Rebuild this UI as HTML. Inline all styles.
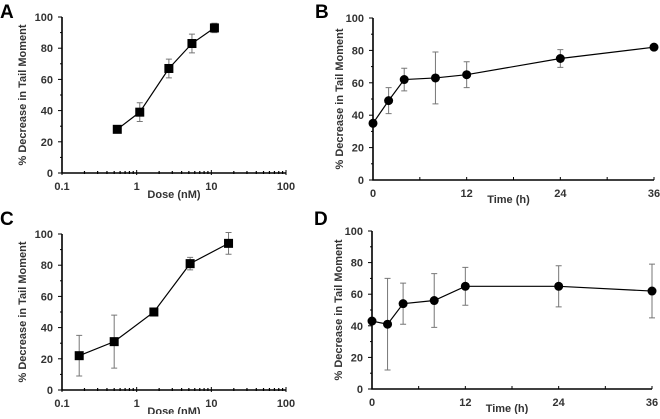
<!DOCTYPE html>
<html><head><meta charset="utf-8"><style>
body{margin:0;background:#fff;width:660px;height:414px;overflow:hidden}
svg{font-family:"Liberation Sans",Arial,sans-serif;font-weight:bold}
</style></head><body>
<svg id="s" width="660" height="414" xmlns="http://www.w3.org/2000/svg">
<text x="0" y="18" font-size="19">A</text>
<text x="315" y="18" font-size="19">B</text>
<text x="0" y="225" font-size="19">C</text>
<text x="314" y="225" font-size="19">D</text>
</svg>
<script>
const aDose=[0.55,1.1,2.7,5.5,11], aVal=[28,39,67,83,93], aErr=[0,6,6,6,3];
const bTime=[0,2,4,8,12,24,36], bVal=[35,49,62,63,65,75,82], bErr=[0,8,7,16,8,5.5,0];
const cDose=[0.17,0.5,1.7,5.2,17], cVal=[22,31,50,81,94], cErr=[13,17,1.5,4,7];
const dTime=[0,2,4,8,12,24,36], dVal=[43,41,54,56,65,65,62], dErr=[0,29,13,17,12,13,17];
const yTicks=[0,20,40,60,80,100];
const logTicks=[0.1,1,10,100], logLabels=["0.1","1","10","100"];
const timeTicks=[0,12,24,36];
const svg=document.getElementById('s');
const NS='http://www.w3.org/2000/svg';
function mk(t,a,p){const e=document.createElementNS(NS,t);for(const k in a)e.setAttribute(k,a[k]);(p||svg).appendChild(e);return e;}
function panel(id,L,R,B,T,isLog,xs,ys,es,marker,xlabel){
  const g=mk('g',{});
  
  
  const X=isLog?(v=>L+(Math.log10(v)+1)/3*(R-L)):(v=>L+v/36*(R-L));
  const Y=v=>B-v/100*(B-T);
  const ax=mk('path',{d:`M${L},${T} L${L},${B} L${R},${B}`,stroke:'#000','stroke-width':1.6,fill:'none'},g);
  
  
  for(let v=0;v<=100;v+=10){mk('line',{x1:L-(v%20?2:4),x2:L,y1:Y(v),y2:Y(v),stroke:'#000','stroke-width':1},g);}
  yTicks.forEach(v=>{const t=mk('text',{x:L-9,y:Y(v)+4,'font-size':11,'text-anchor':'end',fill:'#333'},g);t.textContent=v;
    });
  if(isLog){
    for(let d=0.1;d<100;d*=10){for(let m=2;m<=9;m++){const x=X(d*m);mk('line',{x1:x,x2:x,y1:B-2,y2:B+1,stroke:'#000','stroke-width':1.2},g);}}
    logTicks.forEach((v,i)=>{mk('line',{x1:X(v),x2:X(v),y1:B-3,y2:B+2,stroke:'#000'},g);
      const t=mk('text',{x:X(v),y:B+17,'font-size':11,'text-anchor':'middle',fill:'#333'},g);t.textContent=logLabels[i];
      });
  } else {
    for(let v=6;v<=36;v+=6){mk('line',{x1:X(v),x2:X(v),y1:B-3,y2:B,stroke:'#000'},g);}
    timeTicks.forEach(v=>{const t=mk('text',{x:X(v),y:B+17,'font-size':11,'text-anchor':'middle',fill:'#333'},g);t.textContent=v;
      });
  }
  const xt=mk('text',{x:(L+R)/2-(isLog?0:5),y:B+(isLog?25:23),'font-size':11,'text-anchor':'middle',fill:'#333'},g);xt.textContent=xlabel;
  
  const cy=(B+T)/2, cx=L-(isLog?36:30);
  const yt=mk('text',{x:cx,y:cy,'font-size':11,'text-anchor':'middle',fill:'#333',transform:`rotate(-90 ${cx} ${cy})`},g);yt.textContent='% Decrease in Tail Moment';
  
  xs.forEach((x,i)=>{if(es[i]>0){const px=X(x);
    mk('path',{d:`M${px},${Y(ys[i]-es[i])} L${px},${Y(ys[i]+es[i])} M${px-3},${Y(ys[i]-es[i])} L${px+3},${Y(ys[i]-es[i])} M${px-3},${Y(ys[i]+es[i])} L${px+3},${Y(ys[i]+es[i])}`,stroke:'#777','stroke-width':1,fill:'none'},g);}});
  const ln=mk('polyline',{points:xs.map((x,i)=>X(x)+','+Y(ys[i])).join(' '),fill:'none',stroke:'#000','stroke-width':1.2},g);
  
  xs.forEach((x,i)=>{let m;
    if(marker==='sq')m=mk('rect',{x:X(x)-4.5,y:Y(ys[i])-4.5,width:9,height:9,fill:'#000'},g);
    else m=mk('circle',{cx:X(x),cy:Y(ys[i]),r:4.5,fill:'#000'},g);
    });
}
panel('a',62,286,173,17,true,aDose,aVal,aErr,'sq','Dose (nM)');
panel('b',373,654,180,18,false,bTime,bVal,bErr,'ci','Time (h)');
panel('c',62,286,390,234,true,cDose,cVal,cErr,'sq','Dose (nM)');
panel('d',372,652,389,231,false,dTime,dVal,dErr,'ci','Time (h)');
</script>
</body></html>
